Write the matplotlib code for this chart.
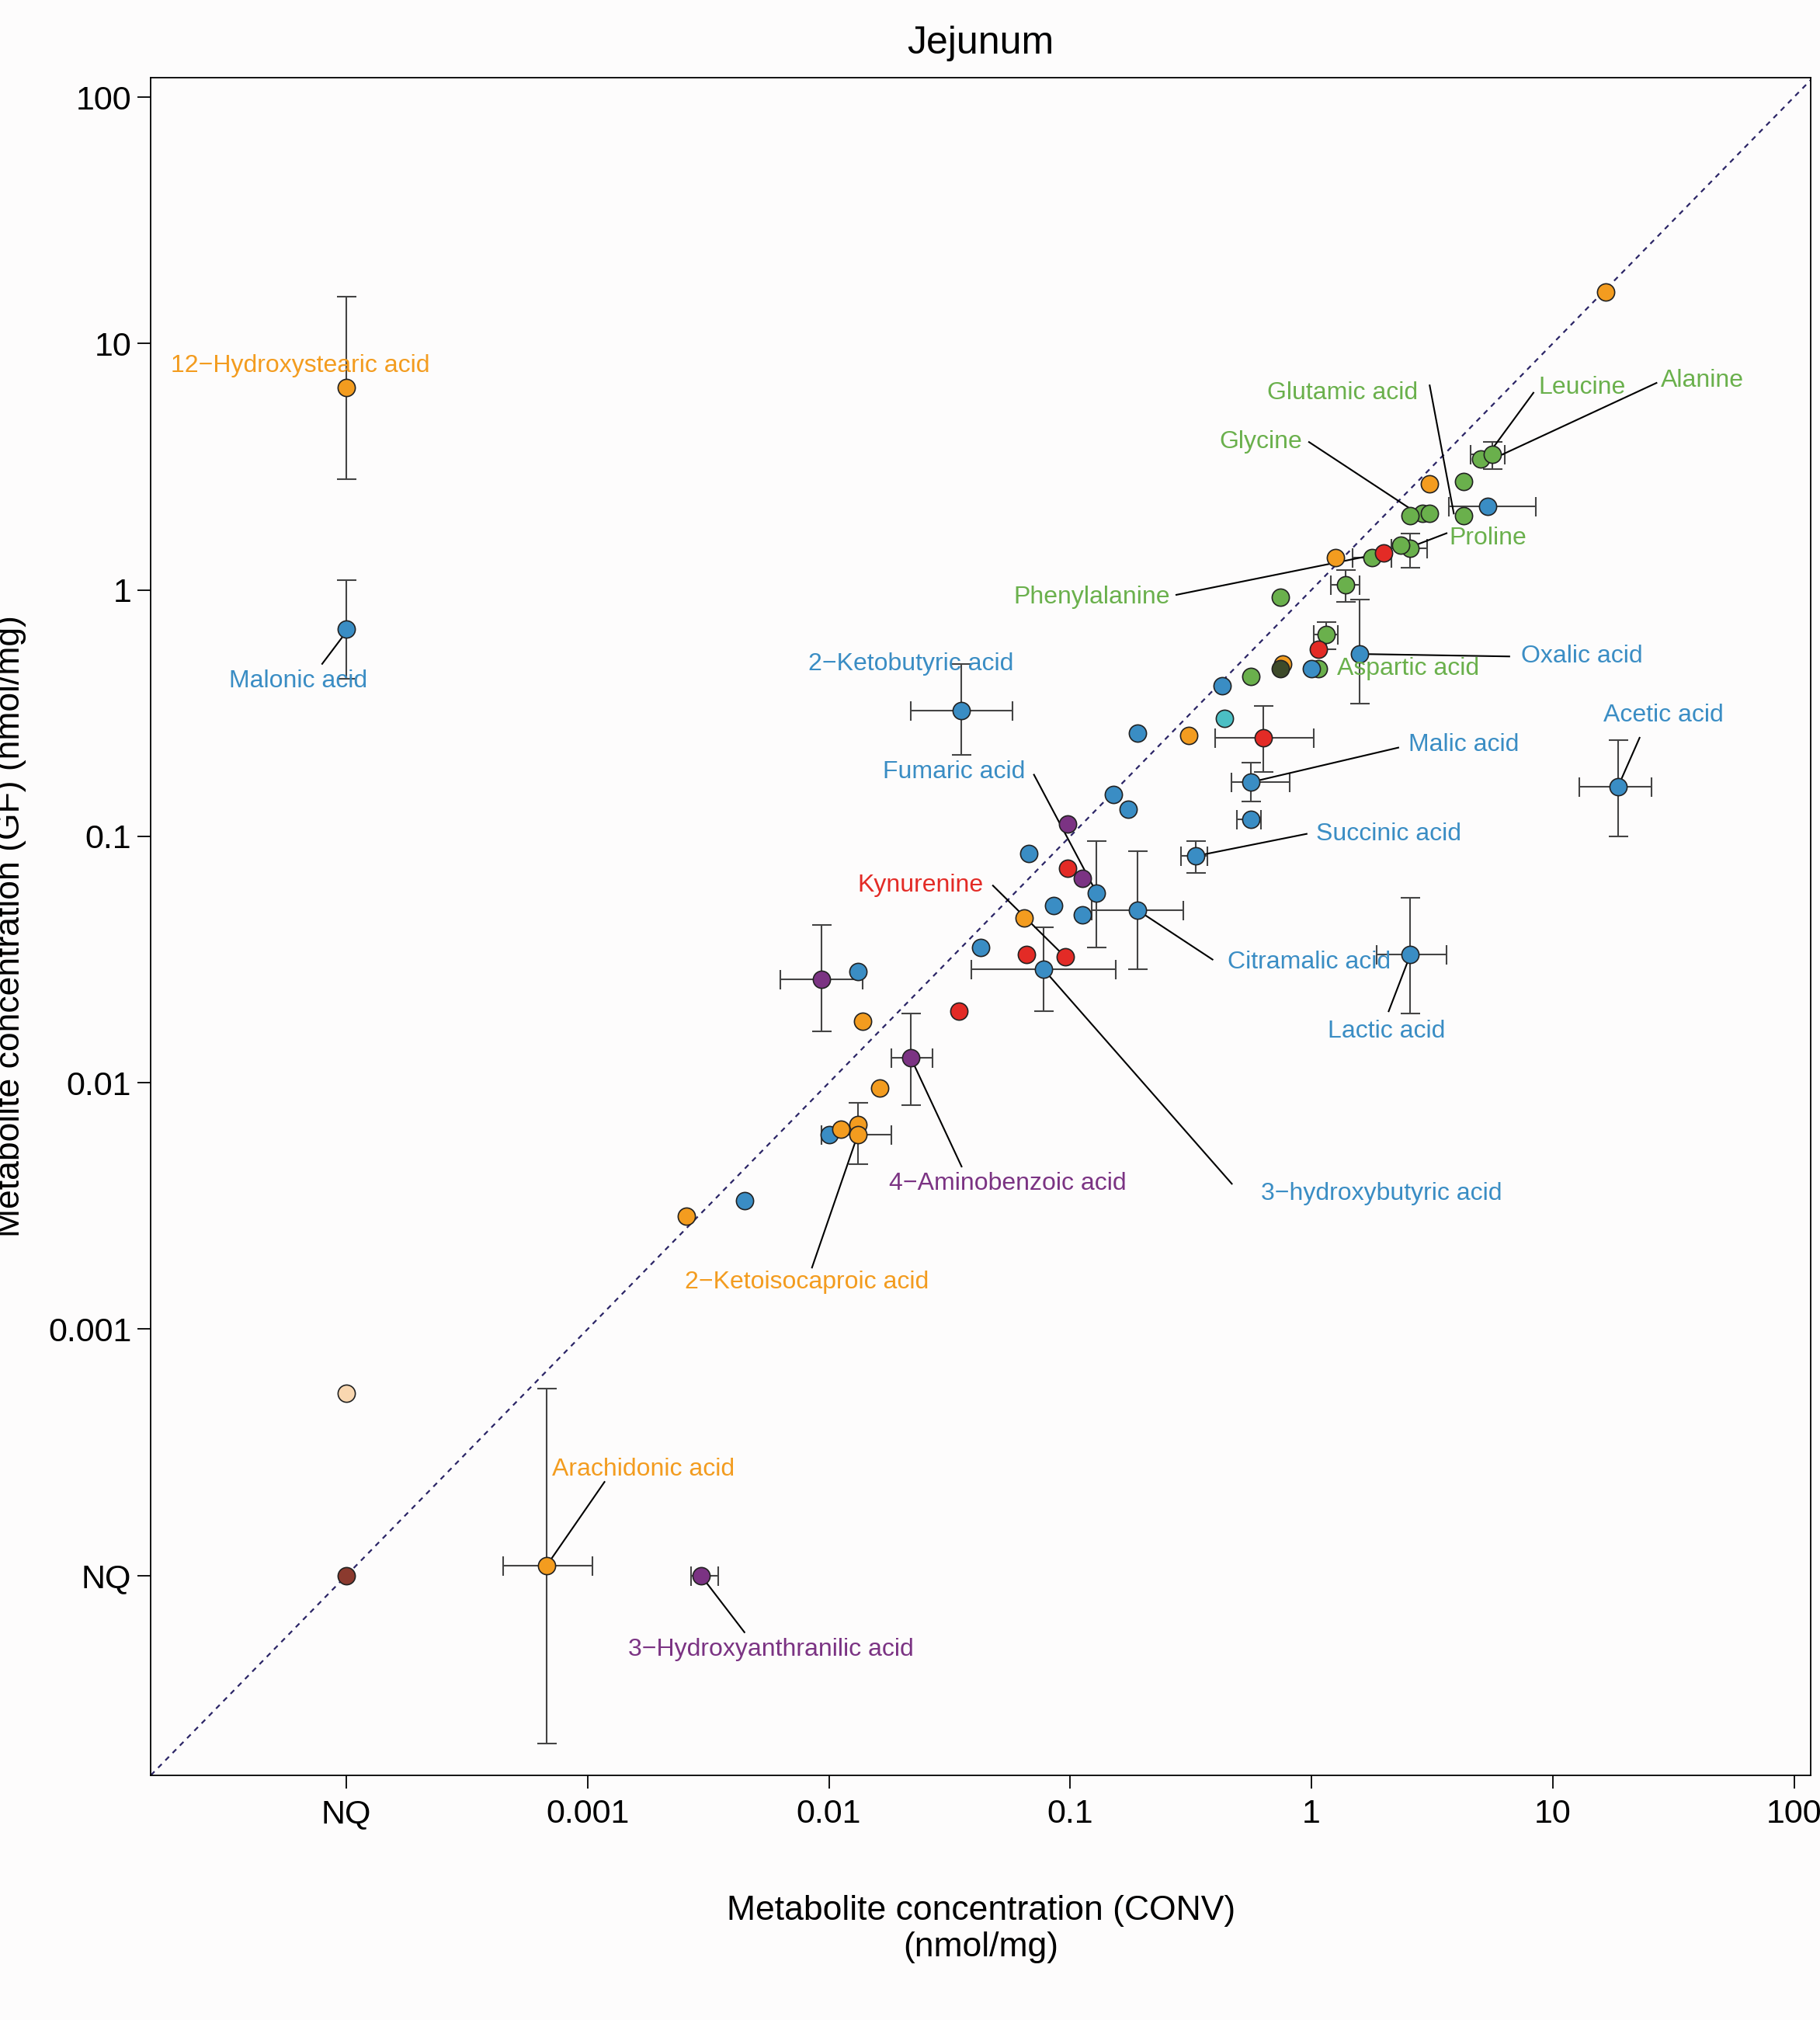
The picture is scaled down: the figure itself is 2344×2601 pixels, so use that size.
import numpy as np
import matplotlib.pyplot as plt

plt.rcParams['font.family'] = ['Liberation Sans', 'DejaVu Sans']

# colours
OR, BL, GR, RD, PU = "#F39C1F", "#3A8DC4", "#6AB04C", "#E32B26", "#7B3383"
TE, LT, BR, DK = "#4BBFC4", "#F9D7B0", "#8B3A2E", "#3d4a2a"
NaN = np.nan

# data in log10(nmol/mg); NQ plotted at -4
# (x, y, colour, xlo, xhi, ylo, yhi)
points = [
    (1.22, 1.21, OR, NaN, NaN, NaN, NaN),
    (-4.0, 0.82, OR, NaN, NaN, 0.45, 1.19),
    (-4.0, -0.16, BL, NaN, NaN, -0.36, 0.04),
    (0.49, 0.43, OR, NaN, NaN, NaN, NaN),
    (0.70, 0.53, GR, NaN, NaN, NaN, NaN),
    (0.75, 0.55, GR, 0.66, 0.80, 0.49, 0.60),
    (0.63, 0.44, GR, NaN, NaN, NaN, NaN),
    (0.63, 0.30, GR, NaN, NaN, NaN, NaN),
    (0.46, 0.31, GR, NaN, NaN, NaN, NaN),
    (0.41, 0.30, GR, NaN, NaN, NaN, NaN),
    (0.49, 0.31, GR, NaN, NaN, NaN, NaN),
    (0.41, 0.17, GR, 0.33, 0.48, 0.09, 0.23),
    (0.37, 0.18, GR, NaN, NaN, NaN, NaN),
    (0.25, 0.13, GR, 0.17, 0.33, NaN, NaN),
    (0.14, 0.02, GR, 0.08, 0.20, -0.05, 0.08),
    (-0.13, -0.03, GR, NaN, NaN, NaN, NaN),
    (0.06, -0.18, GR, 0.01, 0.11, -0.24, -0.13),
    (0.03, -0.32, GR, NaN, NaN, NaN, NaN),
    (-0.25, -0.35, GR, NaN, NaN, NaN, NaN),
    (0.73, 0.34, BL, 0.57, 0.93, NaN, NaN),
    (0.10, 0.13, OR, NaN, NaN, NaN, NaN),
    (-0.12, -0.30, OR, NaN, NaN, NaN, NaN),
    (-0.51, -0.59, OR, NaN, NaN, NaN, NaN),
    (0.30, 0.15, RD, NaN, NaN, NaN, NaN),
    (0.03, -0.24, RD, NaN, NaN, NaN, NaN),
    (-0.20, -0.60, RD, -0.40, 0.01, -0.74, -0.47),
    (-0.13, -0.32, DK, NaN, NaN, NaN, NaN),
    (0.00, -0.32, BL, NaN, NaN, NaN, NaN),
    (0.20, -0.26, BL, NaN, NaN, -0.46, -0.04),
    (-0.37, -0.39, BL, NaN, NaN, NaN, NaN),
    (-0.72, -0.58, BL, NaN, NaN, NaN, NaN),
    (-0.82, -0.83, BL, NaN, NaN, NaN, NaN),
    (-0.76, -0.89, BL, NaN, NaN, NaN, NaN),
    (-0.25, -0.78, BL, -0.33, -0.09, -0.86, -0.70),
    (-0.25, -0.93, BL, -0.31, -0.21, NaN, NaN),
    (-0.48, -1.08, BL, -0.54, -0.43, -1.15, -1.02),
    (-1.45, -0.49, BL, -1.66, -1.24, -0.67, -0.30),
    (-1.17, -1.07, BL, NaN, NaN, NaN, NaN),
    (-1.07, -1.28, BL, NaN, NaN, NaN, NaN),
    (-0.95, -1.32, BL, NaN, NaN, NaN, NaN),
    (-0.89, -1.23, BL, NaN, NaN, -1.45, -1.02),
    (-0.72, -1.30, BL, -0.91, -0.53, -1.54, -1.06),
    (-1.11, -1.54, BL, -1.41, -0.81, -1.71, -1.37),
    (-1.37, -1.45, BL, NaN, NaN, NaN, NaN),
    (-1.88, -1.55, BL, NaN, NaN, NaN, NaN),
    (-2.00, -2.21, BL, NaN, NaN, NaN, NaN),
    (-2.35, -2.48, BL, NaN, NaN, NaN, NaN),
    (0.41, -1.48, BL, 0.27, 0.56, -1.72, -1.25),
    (1.27, -0.80, BL, 1.11, 1.41, -1.00, -0.61),
    (-0.36, -0.52, TE, NaN, NaN, NaN, NaN),
    (-1.01, -0.95, PU, NaN, NaN, NaN, NaN),
    (-0.95, -1.17, PU, NaN, NaN, NaN, NaN),
    (-2.03, -1.58, PU, -2.20, -1.86, -1.79, -1.36),
    (-1.66, -1.90, PU, -1.74, -1.57, -2.09, -1.72),
    (-2.53, -4.00, PU, -2.57, -2.46, NaN, NaN),
    (-1.01, -1.13, RD, NaN, NaN, NaN, NaN),
    (-1.02, -1.49, RD, NaN, NaN, NaN, NaN),
    (-1.18, -1.48, RD, NaN, NaN, NaN, NaN),
    (-1.46, -1.71, RD, NaN, NaN, NaN, NaN),
    (-1.19, -1.33, OR, NaN, NaN, NaN, NaN),
    (-1.86, -1.75, OR, NaN, NaN, NaN, NaN),
    (-1.79, -2.02, OR, NaN, NaN, NaN, NaN),
    (-1.95, -2.19, OR, NaN, NaN, NaN, NaN),
    (-1.88, -2.17, OR, NaN, NaN, NaN, NaN),
    (-1.88, -2.21, OR, -2.03, -1.74, -2.33, -2.08),
    (-2.59, -2.54, OR, NaN, NaN, NaN, NaN),
    (-3.17, -3.96, OR, -3.35, -2.98, -4.68, -3.24),
    (-4.00, -3.26, LT, NaN, NaN, NaN, NaN),
    (-4.00, -4.00, BR, NaN, NaN, NaN, NaN),
]

# labels: (text, colour, text pos (x, y), line start, line end) in log units
labels = [
    ("12\u2212Hydroxystearic acid", OR, (-4.19, 0.91), None, None),
    ("Malonic acid", BL, (-4.20, -0.37), (-4.10, -0.30), (-4.00, -0.17)),
    ("Glutamic acid", GR, (0.13, 0.80), (0.49, 0.83), (0.59, 0.31)),
    ("Leucine", GR, (1.12, 0.82), (0.92, 0.80), (0.74, 0.56)),
    ("Alanine", GR, (1.62, 0.85), (1.43, 0.84), (0.77, 0.54)),
    ("Glycine", GR, (-0.21, 0.60), (-0.01, 0.60), (0.44, 0.31)),
    ("Proline", GR, (0.73, 0.21), (0.56, 0.23), (0.40, 0.17)),
    ("Phenylalanine", GR, (-0.91, -0.03), (-0.56, -0.02), (0.30, 0.15)),
    ("Aspartic acid", GR, (0.40, -0.32), None, None),
    ("Oxalic acid", BL, (1.12, -0.27), (0.82, -0.27), (0.20, -0.26)),
    ("2\u2212Ketobutyric acid", BL, (-1.66, -0.30), None, None),
    ("Acetic acid", BL, (1.46, -0.51), (1.36, -0.60), (1.27, -0.80)),
    ("Malic acid", BL, (0.63, -0.63), (0.36, -0.64), (-0.25, -0.78)),
    ("Fumaric acid", BL, (-1.48, -0.74), (-1.15, -0.75), (-0.89, -1.23)),
    ("Succinic acid", BL, (0.32, -0.99), (-0.02, -0.99), (-0.48, -1.08)),
    ("Kynurenine", RD, (-1.62, -1.20), (-1.32, -1.20), (-1.02, -1.49)),
    ("3\u2212hydroxybutyric acid", BL, (0.29, -2.45), (-0.33, -2.41), (-1.11, -1.54)),
    ("Citramalic acid", BL, (-0.01, -1.51), (-0.41, -1.50), (-0.72, -1.30)),
    ("Lactic acid", BL, (0.31, -1.79), (0.32, -1.71), (0.41, -1.48)),
    ("4\u2212Aminobenzoic acid", PU, (-1.26, -2.41), (-1.45, -2.34), (-1.66, -1.90)),
    ("2\u2212Ketoisocaproic acid", OR, (-2.09, -2.81), (-2.07, -2.75), (-1.88, -2.21)),
    ("Arachidonic acid", OR, (-2.77, -3.57), (-2.93, -3.62), (-3.17, -3.96)),
    ("3\u2212Hydroxyanthranilic acid", PU, (-2.24, -4.30), (-2.35, -4.23), (-2.53, -4.00)),
]

tick_pos = [-4, -3, -2, -1, 0, 1, 2]
tick_lab = ["NQ", "0.001", "0.01", "0.1", "1", "10", "100"]

fig = plt.figure(figsize=(23.44, 26.01), dpi=100)
fig.patch.set_facecolor("#FDFCFC")
ax = fig.add_axes([0.0829, 0.1212, 0.9121, 0.8405])
ax.set_facecolor("#FDFCFC")
ax.set_xlim(-4.81, 2.07)
ax.set_ylim(-4.81, 2.08)

ax.plot([-4.81, 2.08], [-4.81, 2.08], ls=(0, (3, 3)), color="#2B2566", lw=1.6, zorder=1)

for x, y, c, xlo, xhi, ylo, yhi in points:
    if not np.isnan(xlo):
        lo, hi = min(xlo, xhi), max(xlo, xhi)
        ax.errorbar(x, y, xerr=[[max(x - lo, 0)], [max(hi - x, 0)]], fmt="none",
                    ecolor="#444444", elinewidth=1.5, capsize=9, capthick=1.5, zorder=2)
    if not np.isnan(ylo):
        lo, hi = min(ylo, yhi), max(ylo, yhi)
        ax.errorbar(x, y, yerr=[[max(y - lo, 0)], [max(hi - y, 0)]], fmt="none",
                    ecolor="#444444", elinewidth=1.5, capsize=9, capthick=1.5, zorder=2)
    ax.plot(x, y, "o", ms=16, mfc=c, mec="#222222", mew=1.2, zorder=3)

for text, c, tp, ls, le in labels:
    if ls is not None:
        ax.plot([ls[0], le[0]], [ls[1], le[1]], color="black", lw=1.5, zorder=2)
    ax.text(tp[0], tp[1], text, color=c, fontsize=23, ha="center", va="center", zorder=4)

ax.set_xticks(tick_pos)
ax.set_xticklabels(tick_lab, fontsize=31)
ax.set_yticks(tick_pos)
ax.set_yticklabels(tick_lab, fontsize=31)
ax.tick_params(axis="x", length=12, width=1.3, pad=10)
ax.tick_params(axis="y", length=12, width=1.3, pad=6)
for s in ax.spines.values():
    s.set_linewidth(1.3)

ax.set_title("Jejunum", fontsize=36, pad=22)
ax.set_xlabel("Metabolite concentration (CONV)\n(nmol/mg)", fontsize=32, labelpad=60)
ax.set_ylabel("Metabolite concentration (GF) (nmol/mg)", fontsize=32, labelpad=20)

fig.savefig("out.png", dpi=100, facecolor=fig.get_facecolor())
